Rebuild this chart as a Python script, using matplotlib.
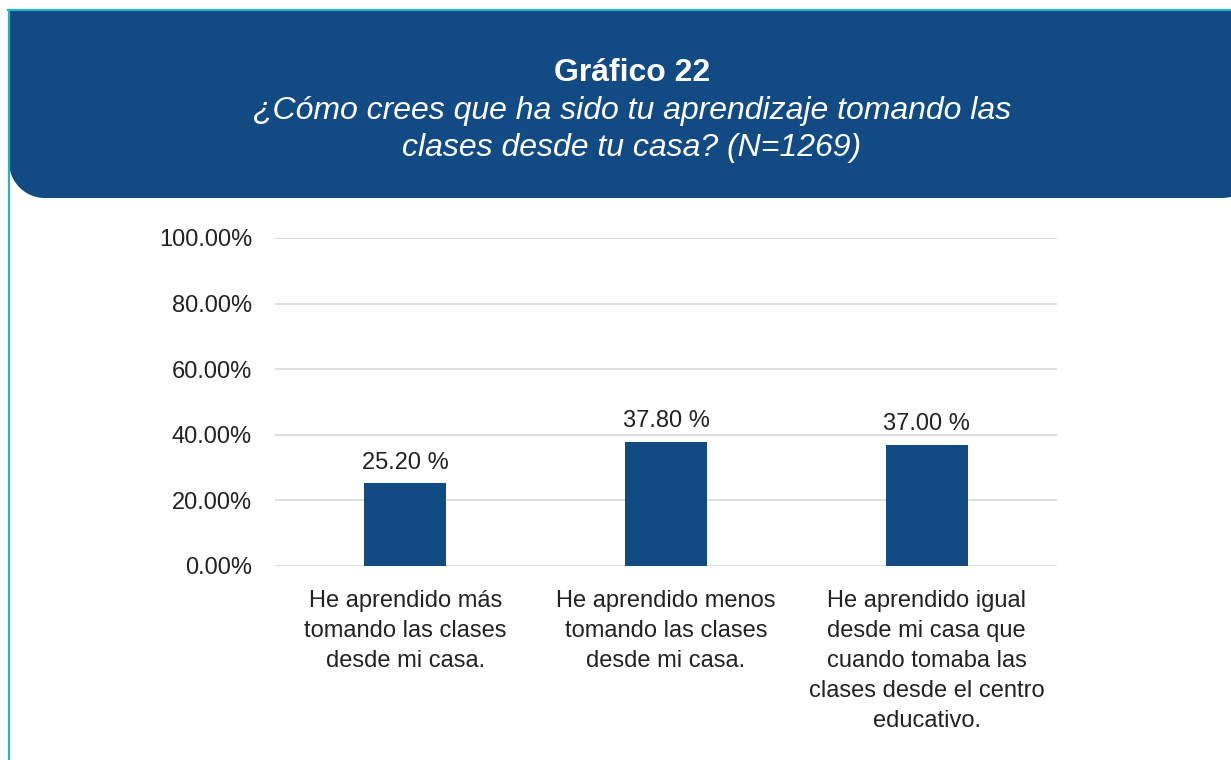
import matplotlib.pyplot as plt
import numpy as np
from matplotlib.path import Path
from matplotlib.patches import PathPatch
from matplotlib.lines import Line2D
from matplotlib.transforms import IdentityTransform

plt.rcParams['font.family'] = ['Liberation Sans', 'DejaVu Sans']

categories = [
    'He aprendido más\ntomando las clases\ndesde mi casa.',
    'He aprendido menos\ntomando las clases\ndesde mi casa.',
    'He aprendido igual\ndesde mi casa que\ncuando tomaba las\nclases desde el centro\neducativo.',
]
values = [25.20, 37.80, 37.00]
yticks = [0, 20, 40, 60, 80, 100]

BLUE = '#124A84'
TEAL = '#27B4C6'
TXT = '#222222'
W, H = 1231, 760

fig = plt.figure(figsize=(W / 100, H / 100), dpi=100)
fig.patch.set_facecolor('white')


def header_path(x0, x1, ytop, ybot, r):
    """Box with square top and rounded bottom corners, pixel coords."""
    t = np.linspace(0, np.pi / 2, 24)
    verts = [(x0, ytop), (x1, ytop), (x1, ybot + r)]
    # bottom-right corner: from (x1, ybot+r) to (x1-r, ybot)
    verts += [(x1 - r + r * np.cos(a), ybot + r - r * np.sin(a)) for a in t]
    # bottom-left corner: from (x0+r, ybot) to (x0, ybot+r)
    verts += [(x0 + r - r * np.sin(a), ybot + r - r * np.cos(a)) for a in t]
    verts.append((x0, ytop))
    codes = [Path.MOVETO] + [Path.LINETO] * (len(verts) - 2) + [Path.CLOSEPOLY]
    return Path(verts, codes)


hp = header_path(9, 1258, H - 11, H - 198, 36)
fig.patches.append(PathPatch(hp, facecolor=BLUE, edgecolor='none',
                             transform=IdentityTransform(), figure=fig))
fig.lines.append(Line2D([8, W], [H - 10, H - 10], color=TEAL, lw=1.6,
                        transform=IdentityTransform(), figure=fig))
fig.lines.append(Line2D([8.5, 8.5], [0, H - 10], color=TEAL, lw=1.6,
                        transform=IdentityTransform(), figure=fig))

fig.text(632 / W, 1 - 73 / H, 'Gráfico 22', ha='center', va='center',
         color='white', fontsize=23, fontweight='bold')
fig.text(632 / W, 1 - 111 / H, '¿Cómo crees que ha sido tu aprendizaje tomando las',
         ha='center', va='center', color='white', fontsize=23, style='italic')
fig.text(632 / W, 1 - 148 / H, 'clases desde tu casa? (N=1269)',
         ha='center', va='center', color='white', fontsize=23, style='italic')

ax = fig.add_axes([275 / W, 1 - 566 / H, 782 / W, 328 / H])
x = np.arange(len(values))
bars = ax.bar(x, values, width=0.315, color=BLUE, zorder=3)
ax.set_xlim(-0.5, len(values) - 0.5)
ax.set_ylim(0, 100)
ax.set_yticks(yticks)
ax.set_yticklabels([f'{v:.2f}%' for v in yticks], fontsize=17, color=TXT)
ax.set_xticks(x)
ax.set_xticklabels(categories, fontsize=17, color=TXT, linespacing=1.47, va='top')
ax.tick_params(axis='both', length=0)
ax.tick_params(axis='y', pad=16.5)
ax.tick_params(axis='x', pad=17)
ax.grid(axis='y', color='#D9D9D9', lw=1.2, zorder=0)
for s in ax.spines.values():
    s.set_visible(False)

for b, v in zip(bars, values):
    ax.annotate(f'{v:.2f} %', (b.get_x() + b.get_width() / 2, v),
                xytext=(0, 7), textcoords='offset points', ha='center', va='bottom',
                fontsize=17, color=TXT)

fig.savefig('out.png', dpi=100)
